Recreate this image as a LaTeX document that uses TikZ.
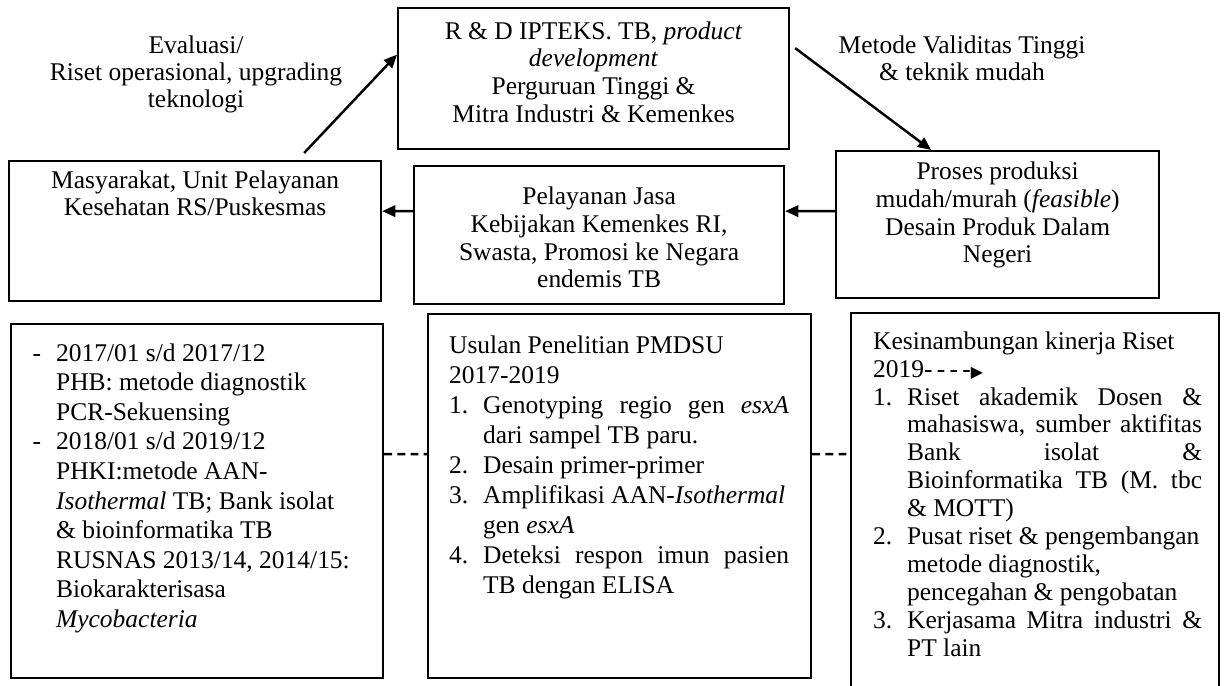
\documentclass[tikz,border=0pt]{standalone}
\usepackage{fontspec}
\setmainfont{Liberation Serif}
\newfontfamily\simbol{DejaVu Sans}
\usetikzlibrary{arrows.meta}

\newcommand{\atas}[1]{\rule{0pt}{#1}}
\newcommand{\nomor}[1]{\makebox[0.68cm][l]{#1}}
\newcommand{\rata}[2]{\makebox[#1][s]{#2}}

\begin{document}
\begin{tikzpicture}[x=0.02cm,y=-0.02cm,
    kotak/.style={draw,line width=1.3pt,inner sep=0pt,anchor=north west},
    panah/.style={line width=1.4pt,-{Triangle[length=7.5pt,width=6.5pt]}},
    putus/.style={line width=1.3pt,dash pattern=on 4.5pt off 3pt},
    keterangan/.style={align=center,inner sep=0pt,anchor=north,font=\fontsize{14.5}{15.4}\selectfont}]
\clip (0,0) rectangle (1225,686);

% baris atas
\node[kotak,font=\fontsize{14.5}{15.8}\selectfont] (rnd) at (397,7)
    {\parbox[c][2.82cm][t]{7.82cm}{\centering\atas{0.62cm}R \& D IPTEKS. TB, \textit{product}\\
    \textit{development}\\ Perguruan Tinggi \&\\ Mitra Industri \& Kemenkes}};
\node[keterangan] (evaluasi) at (196,35) {Evaluasi/\\ Riset operasional, upgrading\\ teknologi};
\node[keterangan] (metode) at (962,35) {Metode Validitas Tinggi\\ \& teknik mudah};

% baris tengah
\node[kotak,font=\fontsize{14.5}{15.5}\selectfont] (masy) at (8,160)
    {\parbox[c][2.8cm][t]{7.44cm}{\centering\atas{0.54cm}Masyarakat, Unit Pelayanan\\ Kesehatan RS/Puskesmas}};
\node[kotak,font=\fontsize{14.5}{15.9}\selectfont] (pel) at (413,165)
    {\parbox[c][2.76cm][t]{7.4cm}{\centering\atas{0.76cm}Pelayanan Jasa\\ Kebijakan Kemenkes RI,\\
    Swasta, Promosi ke Negara\\ endemis TB}};
\node[kotak,font=\fontsize{14.5}{15.9}\selectfont] (pro) at (835,150)
    {\parbox[c][2.94cm][t]{6.46cm}{\centering\atas{0.56cm}Proses produksi\\ mudah/murah (\textit{feasible})\\
    Desain Produk Dalam\\ Negeri}};

% baris bawah
\node[kotak,font=\fontsize{14.5}{16.85}\selectfont] (kiri) at (10,323)
    {\parbox[c][7.08cm][t]{7.44cm}{\leftskip=0.9cm\atas{0.74cm}\llap{-\hspace{0.3cm}}2017/01 s/d 2017/12\\
    PHB: metode diagnostik\\ PCR-Sekuensing\\ \llap{-\hspace{0.3cm}}2018/01 s/d 2019/12\\
    PHKI:metode AAN-\\ \textit{Isothermal} TB; Bank isolat\\ \& bioinformatika TB\\
    RUSNAS 2013/14, 2014/15:\\ Biokarakterisasa\\ \textit{Mycobacteria}}};
\node[kotak,font=\fontsize{14.5}{17.1}\selectfont] (tengah) at (427,313)
    {\parbox[c][7.28cm][t]{7.66cm}{\leftskip=0.42cm\atas{0.78cm}Usulan Penelitian PMDSU\\ 2017-2019\\
    \nomor{1.}\rata{6.12cm}{Genotyping regio gen \textit{esxA}}\\
    \nomor{}dari sampel TB paru.\\
    \nomor{2.}Desain primer-primer\\
    \nomor{3.}Amplifikasi AAN-\textit{Isothermal}\\
    \nomor{}gen \textit{esxA}\\
    \nomor{4.}\rata{6.12cm}{Deteksi respon imun pasien}\\
    \nomor{}TB dengan ELISA}};
\node[kotak,font=\fontsize{14.5}{15.9}\selectfont] (kanan) at (850,312)
    {\parbox[c][7.96cm][t]{7.36cm}{\leftskip=0.44cm\atas{0.72cm}Kesinambungan kinerja Riset\\
    2019-\,-\,-\,-{\simbol\fontsize{9}{9}\selectfont ▶}\\
    \nomor{1.}\rata{5.9cm}{Riset akademik Dosen \&}\\
    \nomor{}\rata{5.9cm}{mahasiswa, sumber aktifitas}\\
    \nomor{}\rata{5.9cm}{Bank isolat \&}\\
    \nomor{}\rata{5.9cm}{Bioinformatika TB (M. tbc}\\
    \nomor{}\& MOTT)\\
    \nomor{2.}Pusat riset \& pengembangan\\
    \nomor{}metode diagnostik,\\
    \nomor{}pencegahan \& pengobatan\\
    \nomor{3.}\rata{5.9cm}{Kerjasama Mitra industri \&}\\
    \nomor{}PT lain}};

% panah
\draw[panah] ([yshift=0.27cm]pro.west) -- ([yshift=0.48cm]pel.east);
\draw[panah] ([yshift=0.48cm]pel.west) -- ([yshift=0.4cm]masy.east);
\draw[panah] ([xshift=2.18cm,yshift=0.14cm]masy.north) -- ([yshift=0.48cm]rnd.west);
\draw[panah] ([xshift=0.1cm,yshift=0.61cm]rnd.east) -- ([xshift=-1.33cm]pro.north);
\draw[putus] ([yshift=0.94cm]kiri.east) -- ([yshift=0.84cm]tengah.west);
\draw[putus] ([yshift=0.84cm]tengah.east) -- ([yshift=1.16cm]kanan.west);
\end{tikzpicture}
\end{document}
